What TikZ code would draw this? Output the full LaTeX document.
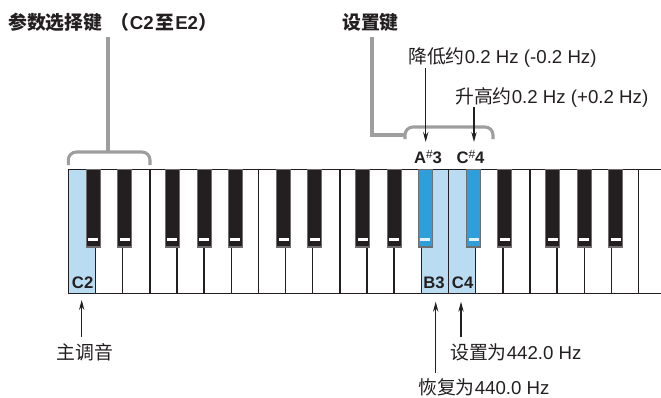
\documentclass[tikz,border=0pt]{standalone}
\usepackage{fontspec}
\setmainfont{Liberation Sans}
\newfontfamily\cjk[Scale=1.01]{Noto Sans CJK SC}
\usetikzlibrary{arrows.meta}

\definecolor{keyline}{RGB}{35,31,32}
\definecolor{bracketgray}{RGB}{158,158,158}
\definecolor{lightkey}{RGB}{185,220,243}
\definecolor{bluekey}{RGB}{46,159,219}

\newcommand\zh[1]{{\cjk #1}}
\newcommand\shp{\raisebox{.55ex}{\fontsize{9}{9}\selectfont\mdseries\#}}

\tikzset{
  whitekey/.style={draw=keyline, line width=1.1pt},
  blackkey/.style={draw=keyline!65, line width=0.8pt, fill=keyline},
  bracketline/.style={draw=bracketgray, line width=2.3pt, rounded corners=6pt},
  stemline/.style={draw=bracketgray, line width=2.3pt},
  callout/.style={-{Stealth[length=7.5pt,width=4pt]}, line width=0.8pt, draw=keyline},
  keylabel/.style={font=\fontsize{12.5}{14}\selectfont\bfseries, text=keyline, inner sep=0pt},
  note/.style={font=\fontsize{14}{16}\selectfont, text=keyline, inner sep=0pt},
}

\begin{document}
\begin{tikzpicture}[x=0.75pt,y=0.75pt,yscale=-1,xscale=1]
\useasboundingbox (0,0) rectangle (661,397);

% keyboard
\def\kx{68.3}
\def\kw{27.16}
\begin{scope}
\clip (0,0) rectangle (661,397);
\foreach \i in {0,...,21}
  \draw[whitekey, fill=white] ({\kx+\i*\kw},169.3) rectangle ++(\kw,124);
\foreach \i in {0,13,14}
  \draw[whitekey, fill=lightkey] ({\kx+\i*\kw},169.3) rectangle ++(\kw,124);
\foreach \oct in {0,1,2}
  \foreach \bnd/\off in {1/-2,2/2,4/-4.5,5/0,6/4}
  {
    \pgfmathsetmacro\cx{\kx+(\bnd+7*\oct)*\kw+\off}
    \draw[blackkey] (\cx-7,169.3) rectangle (\cx+7,247);
    \fill[white] (\cx-5,237.5) rectangle (\cx+5,241);
  }
% A#3 and C#4
\foreach \bnd/\off in {13/4,15/-2}
  {
    \pgfmathsetmacro\cx{\kx+\bnd*\kw+\off}
    \draw[blackkey, fill=bluekey] (\cx-7,169.3) rectangle (\cx+7,247);
    \fill[lightkey!40] (\cx-5,237.5) rectangle (\cx+5,241);
  }
\end{scope}

% key names
\node[keylabel, anchor=west] (c2) at (71.7,283) {C2};
\node[keylabel, anchor=west] (b3) at (423,283) {B3};
\node[keylabel, anchor=west] (c4) at (451.7,283) {C4};
\node[keylabel] (as3) at (428,157) {A\shp3};
\node[keylabel] (cs4) at (470.5,157) {C\shp4};

% parameter keys
\node[note, anchor=west] (selkeys) at (8,22)
  {\zh{\bfseries 参数选择键\hspace{0.45em}（}\textbf{C2}\hspace{1pt}\zh{\bfseries 至}\hspace{1pt}\textbf{E2}\zh{\bfseries ）}};
\coordinate (selmid) at (108,152);
\draw[bracketline] (68.3,165) |- (150,152) -- (150,165);
\draw[stemline, shorten <=4pt] (selkeys.south -| selmid) -- (selmid);

% setting keys
\node[note, anchor=west] (setkeys) at (342,22) {\zh{\bfseries 设置键}};
\coordinate (setstem) at (372,135);
\coordinate (setbrk) at (405,135);
\draw[bracketline] (405,139) |- (493,127) -- (493,139);
\draw[stemline, shorten <=4pt] (setkeys.south -| setstem) |- (setbrk);

% up / down
\node[note, anchor=west] (down) at (408,58) {\zh{降低约}0.2 Hz (-0.2 Hz)};
\node[note, anchor=west] (up) at (455,97) {\zh{升高约}0.2 Hz (+0.2 Hz)};
\coordinate (as3tip) at (425.7,142);
\coordinate (cs4tip) at (474,142);
\draw[callout] (down.south -| as3tip) -- (as3tip);
\draw[callout] (up.south -| cs4tip) -- (cs4tip);

% bottom notes
\node[note] (tonic) at (85,352) {\zh{主调音}};
\node[note, anchor=west] (set442) at (450,352) {\zh{设置为}442.0 Hz};
\node[note, anchor=west] (reset440) at (418,387.5) {\zh{恢复为}440.0 Hz};
\coordinate (c2tip) at (81.7,300);
\coordinate (b3tip) at (435.7,301.7);
\coordinate (c4tip) at (461,301.7);
\draw[callout, shorten <=4.5pt] (tonic.north -| c2tip) -- (c2tip);
\draw[callout, shorten <=4.5pt] (reset440.north -| b3tip) -- (b3tip);
\draw[callout, shorten <=4.5pt] (set442.north -| c4tip) -- (c4tip);
\end{tikzpicture}
\end{document}
